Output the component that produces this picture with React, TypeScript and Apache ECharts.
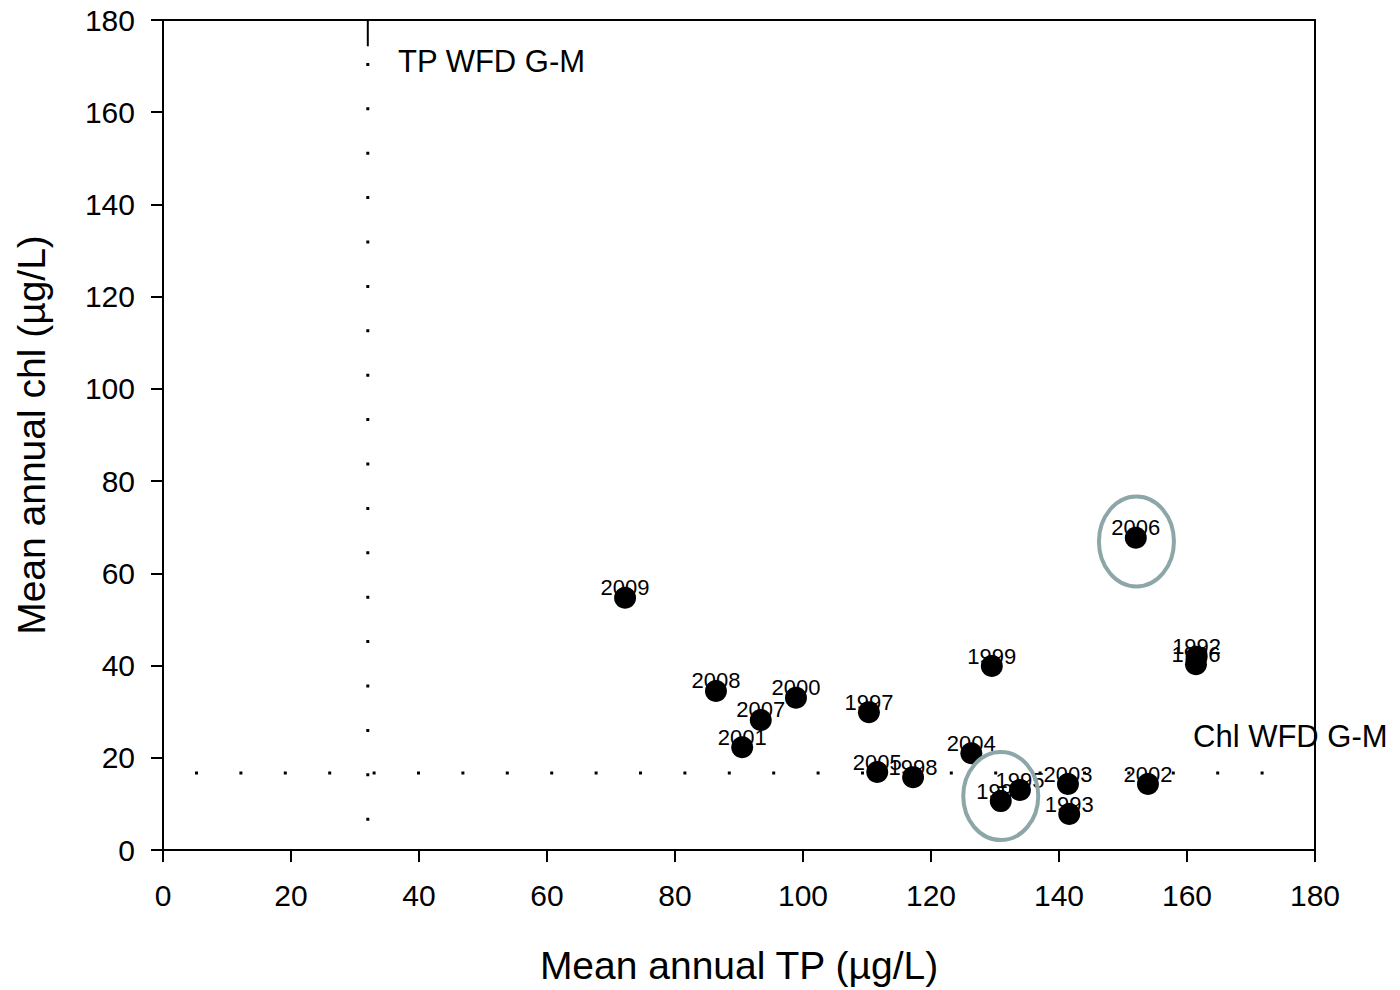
import React, { useEffect, useRef } from "react";
import * as echarts from "echarts";

const years = ["2009","2008","2007","2000","2001","1997","2005","1998","2004","1999","1994","1995","2003","1993","2002","2006","1992","1996"];
const tpValues = [72.2, 86.4, 93.4, 98.9, 90.5, 110.3, 111.6, 117.2, 126.3, 129.5, 130.9, 133.9, 141.4, 141.6, 153.9, 152.0, 161.5, 161.4];
const chlValues = [54.7, 34.5, 28.2, 33.0, 22.3, 29.9, 16.9, 15.8, 21.0, 39.9, 10.6, 13.0, 14.3, 7.8, 14.3, 67.7, 41.9, 40.3];

const tpThreshold = 32;
const chlThreshold = 16.7;
const highlighted = [[152.1, 66.9], [130.9, 11.7]];

const FONT = "'Liberation Sans', Arial, sans-serif";

export default function App() {
  const ref = useRef<HTMLDivElement>(null);
  useEffect(() => {
    document.body.style.margin = "0";
    const chart = echarts.init(ref.current!, null, { renderer: "svg" });
    const dotted = { color: "#000", width: 3, type: [3, 41.4] as any, cap: "butt" as any };
    chart.setOption({
      animation: false,
      backgroundColor: "#fff",
      grid: { left: 163, top: 20, right: 85, bottom: 140, show: true, borderColor: "#000", borderWidth: 2, backgroundColor: "transparent" },
      xAxis: {
        type: "value", min: 0, max: 180, interval: 20,
        name: "Mean annual TP (µg/L)", nameLocation: "middle", nameGap: 96,
        nameTextStyle: { fontFamily: FONT, fontSize: 39, color: "#000", verticalAlign: "top" },
        axisLine: { show: true, lineStyle: { color: "#000", width: 2 } },
        axisTick: { show: true, length: 12, lineStyle: { color: "#000", width: 2 } },
        axisLabel: { fontFamily: FONT, fontSize: 30, color: "#000", margin: 30 },
        splitLine: { show: false },
      },
      yAxis: {
        type: "value", min: 0, max: 180, interval: 20,
        name: "Mean annual chl (µg/L)", nameLocation: "middle", nameGap: 112, nameRotate: 90,
        nameTextStyle: { fontFamily: FONT, fontSize: 39, color: "#000" },
        axisLine: { show: true, lineStyle: { color: "#000", width: 2 } },
        axisTick: { show: true, length: 12, lineStyle: { color: "#000", width: 2 } },
        axisLabel: { fontFamily: FONT, fontSize: 30, color: "#000", margin: 28 },
        splitLine: { show: false },
      },
      series: [
        {
          type: "line", data: [[5, chlThreshold], [172.2, chlThreshold]], symbol: "none", silent: true,
          lineStyle: dotted, z: 1,
        },
        {
          type: "line", data: [[tpThreshold, 180], [tpThreshold, 174.3]], symbol: "none", silent: true,
          lineStyle: { color: "#000", width: 2 }, z: 1,
        },
        {
          type: "line", data: [[tpThreshold, 170.7], [tpThreshold, 5]], symbol: "none", silent: true,
          lineStyle: dotted, z: 1,
        },
        {
          type: "scatter",
          symbol: "circle",
          symbolSize: 22,
          itemStyle: { color: "#000", opacity: 1 },
          data: tpValues.map((x, i) => ({ value: [x, chlValues[i]], name: years[i] })),
          label: {
            show: true, position: "inside", offset: [0, -10],
            formatter: (p: any) => p.name,
            fontFamily: FONT, fontSize: 22, color: "#000",
          },
          z: 3,
        },
      ],
    });
    const ellipses = highlighted.map(([x, y], i) => {
      const [px, py] = chart.convertToPixel({ gridIndex: 0 }, [x, y]) as number[];
      return {
        type: "ellipse",
        shape: { cx: px, cy: py, rx: 37.5, ry: i === 0 ? 45 : 44 },
        style: { fill: "none", stroke: "#8da6a7", lineWidth: 4 },
        z: 10,
      };
    });
    chart.setOption({
      graphic: [
        ...ellipses,
        { type: "text", left: 398, top: 46, style: { text: "TP WFD G-M", fontFamily: FONT, fontSize: 31, fill: "#000" }, z: 10 },
        { type: "text", left: 1193, top: 721, style: { text: "Chl WFD G-M", fontFamily: FONT, fontSize: 31, fill: "#000" }, z: 10 },
      ],
    });
    return () => chart.dispose();
  }, []);
  return <div ref={ref} style={{ width: 1400, height: 990 }} />;
}
